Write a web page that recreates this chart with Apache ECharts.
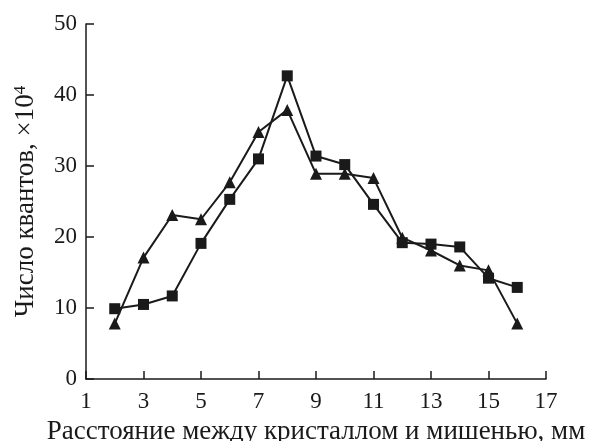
<!DOCTYPE html>
<html>
<head>
<meta charset="utf-8">
<script src="https://cdn.jsdelivr.net/npm/echarts@6/dist/echarts.min.js"></script>
<style>
html,body{margin:0;padding:0;background:#fff;}
#chart{width:599px;height:441px;}
</style>
</head>
<body>
<div id="chart"></div>
<script>
var xValues = [2, 3, 4, 5, 6, 7, 8, 9, 10, 11, 12, 13, 14, 15, 16];
var squareValues = [9.9, 10.5, 11.7, 19.1, 25.3, 31.0, 42.7, 31.4, 30.2, 24.6, 19.2, 19.0, 18.6, 14.2, 12.9];
var triangleValues = [7.8, 17.1, 23.1, 22.5, 27.7, 34.8, 37.9, 28.9, 28.9, 28.3, 19.9, 18.1, 16.0, 15.3, 7.8];
var xTitle = 'Расстояние между кристаллом и мишенью, мм';
var yTitle = 'Число квантов, ×10';

function pairs(xs, ys) {
  return xs.map(function (x, i) { return [x, ys[i]]; });
}

var font = '"Liberation Serif", "DejaVu Serif", serif';
var axisColor = '#1a1a1a';

var chart = echarts.init(document.getElementById('chart'));
chart.setOption({
  animation: false,
  backgroundColor: '#ffffff',
  grid: { left: 86, right: 53, top: 24, bottom: 62, containLabel: false, outerBoundsMode: 'none' },
  xAxis: {
    type: 'value',
    min: 1, max: 17, interval: 2,
    name: xTitle,
    nameLocation: 'middle',
    nameGap: 39,
    nameTextStyle: { fontFamily: font, fontSize: 27, color: '#1a1a1a' },
    axisLine: { show: true, lineStyle: { color: axisColor, width: 1.5 } },
    axisTick: { show: true, inside: true, length: 8, lineStyle: { color: axisColor, width: 1.5 } },
    axisLabel: { fontFamily: font, fontSize: 23, color: '#1a1a1a', margin: 11 },
    splitLine: { show: false }
  },
  yAxis: {
    type: 'value',
    min: 0, max: 50, interval: 10,
    name: yTitle + '{sup|4}',
    nameLocation: 'middle',
    nameGap: 47,
    nameRotate: 90,
    nameTextStyle: {
      fontFamily: font, fontSize: 27, color: '#1a1a1a',
      rich: { sup: { fontFamily: font, fontSize: 17, color: '#1a1a1a', verticalAlign: 'top', padding: [0, 0, 10, 0] } }
    },
    axisLine: { show: true, lineStyle: { color: axisColor, width: 1.5 } },
    axisTick: { show: true, inside: true, length: 8, lineStyle: { color: axisColor, width: 1.5 } },
    axisLabel: { fontFamily: font, fontSize: 23, color: '#1a1a1a', margin: 9 },
    splitLine: { show: false }
  },
  series: [
    {
      type: 'line',
      data: pairs(xValues, triangleValues),
      symbol: 'triangle',
      symbolSize: 12,
      lineStyle: { color: '#1a1a1a', width: 2 },
      itemStyle: { color: '#1a1a1a' }
    },
    {
      type: 'line',
      data: pairs(xValues, squareValues),
      symbol: 'rect',
      symbolSize: 11,
      lineStyle: { color: '#1a1a1a', width: 2 },
      itemStyle: { color: '#1a1a1a' }
    }
  ]
});
</script>
</body>
</html>
